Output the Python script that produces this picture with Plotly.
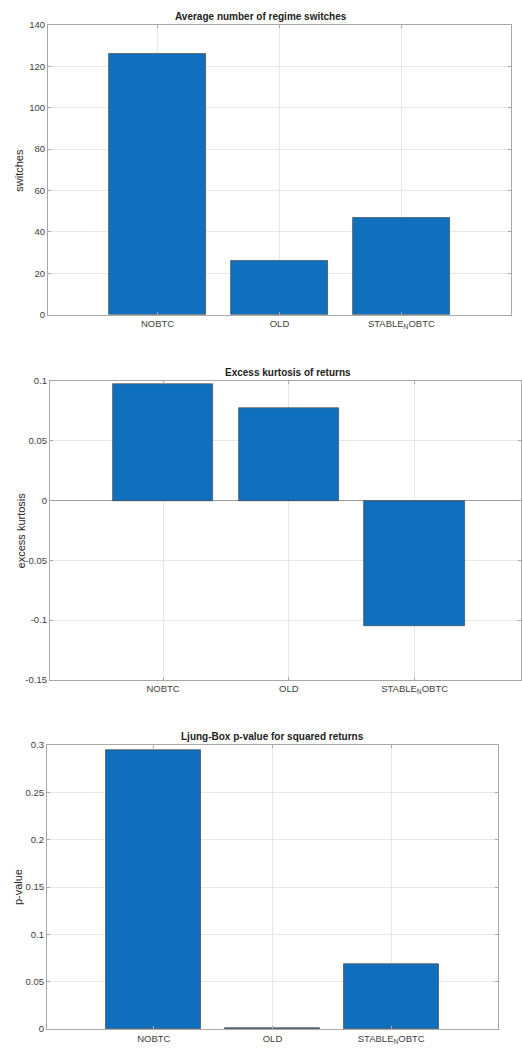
import plotly.graph_objects as go

categories = ["NOBTC", "OLD", "STABLE<sub>N</sub>OBTC"]
cat_pos = [1, 2, 3]
switches = [126, 26, 47]
kurtosis = [0.0978, 0.0772, -0.105]
pvalues = [0.295, 0.0006, 0.069]

titles = ["Average number of regime switches", "Excess kurtosis of returns",
          "Ljung-Box p-value for squared returns"]
ylabels = ["switches", "excess kurtosis", "p-value"]

y1_ticks = [0, 20, 40, 60, 80, 100, 120, 140]
y2_ticks = [-0.15, -0.1, -0.05, 0, 0.05, 0.1]
y2_text = ["-0.15", "-0.1", "-0.05", "0", "0.05", "0.1"]
y3_ticks = [0, 0.05, 0.1, 0.15, 0.2, 0.25, 0.3]
y3_text = ["0", "0.05", "0.1", "0.15", "0.2", "0.25", "0.3"]

W, H = 522, 1048
BAR = "#1170be"
EDGE = "#3a3a3a"
FONT = "Liberation Sans, Arial, sans-serif"
TICKC = "#404040"
AXC = "#a8a8a8"
GRID = "#e8e8e8"
TICKSIZE = 9.5

def px_x(p):
    return p / W

def px_y(p):
    return 1 - p / H

fig = go.Figure()

fig.add_trace(go.Bar(x=cat_pos, y=switches, width=0.8, marker_color=BAR,
                     marker_line=dict(color=EDGE, width=0.6), xaxis="x", yaxis="y",
                     showlegend=False))
fig.add_trace(go.Bar(x=cat_pos, y=kurtosis, width=0.8, marker_color=BAR,
                     marker_line=dict(color=EDGE, width=0.6), xaxis="x2", yaxis="y2",
                     showlegend=False))
fig.add_trace(go.Bar(x=cat_pos, y=pvalues, width=0.8, marker_color=BAR,
                     marker_line=dict(color="#555555", width=0.8),
                     marker_pattern=dict(shape=".", fgcolor="#0a5aa6", bgcolor=BAR,
                                         size=4, solidity=0.15),
                     xaxis="x3", yaxis="y3", showlegend=False))

panels = [
    # (x0, x1, ytop, ybot, xrange, yrange, tickvals, ticktext, title_center_x)
    (48, 512, 19, 312, [0.1, 3.9], [0, 140], y1_ticks, [str(v) for v in y1_ticks], 262),
    (50, 522, 379, 681, [0.1, 3.846], [-0.15, 0.1], y2_ticks, y2_text, 289),
    (47, 499, 747, 1034, [0.1, 3.9], [0, 0.3], y3_ticks, y3_text, 273),
]

layout = dict(
    width=W, height=H, margin=dict(l=0, r=0, t=0, b=0),
    paper_bgcolor="white", plot_bgcolor="white", bargap=0,
    font=dict(family=FONT, size=TICKSIZE, color=TICKC),
)
annotations = []
for i, (x0, x1, yt, yb, xr, yr, tv, tt, tcx) in enumerate(panels):
    sfx = "" if i == 0 else str(i + 1)
    layout["xaxis" + sfx] = dict(
        domain=[px_x(x0), px_x(x1)], range=xr, anchor="y" + sfx,
        tickvals=cat_pos, ticktext=categories, ticks="inside", ticklen=3,
        tickcolor=AXC, showline=True, linecolor=AXC, linewidth=1, mirror="ticks",
        showgrid=True, gridcolor=GRID, gridwidth=1, zeroline=False,
        tickfont=dict(family=FONT, size=TICKSIZE, color=TICKC), fixedrange=True,
    )
    layout["yaxis" + sfx] = dict(
        domain=[px_y(yb), px_y(yt)], range=yr, anchor="x" + sfx,
        tickvals=tv, ticktext=tt, ticks="inside", ticklen=3,
        tickcolor=AXC, showline=True, linecolor=AXC, linewidth=1, mirror="ticks",
        showgrid=True, gridcolor=GRID, gridwidth=1,
        zeroline=(i == 1), zerolinecolor="#9a9a9a", zerolinewidth=1,
        tickfont=dict(family=FONT, size=TICKSIZE, color=TICKC), fixedrange=True,
    )
    annotations.append(dict(
        text="<b>" + titles[i] + "</b>", xref="paper", yref="paper",
        x=px_x(tcx), y=px_y(yt - 1), xanchor="center", yanchor="bottom",
        showarrow=False, font=dict(family=FONT, size=10, color="#222222"),
    ))
    annotations.append(dict(
        text=ylabels[i], xref="paper", yref="paper",
        x=px_x(x0 - 29), y=px_y((yt + yb) / 2), xanchor="center", yanchor="middle",
        textangle=-90, showarrow=False,
        font=dict(family=FONT, size=11, color="#262626"),
    ))

layout["annotations"] = annotations
fig.update_layout(**layout)
fig.write_html("out.html", config={"displayModeBar": False},
               post_script="document.body.style.margin='0';document.body.style.overflow='hidden';")
